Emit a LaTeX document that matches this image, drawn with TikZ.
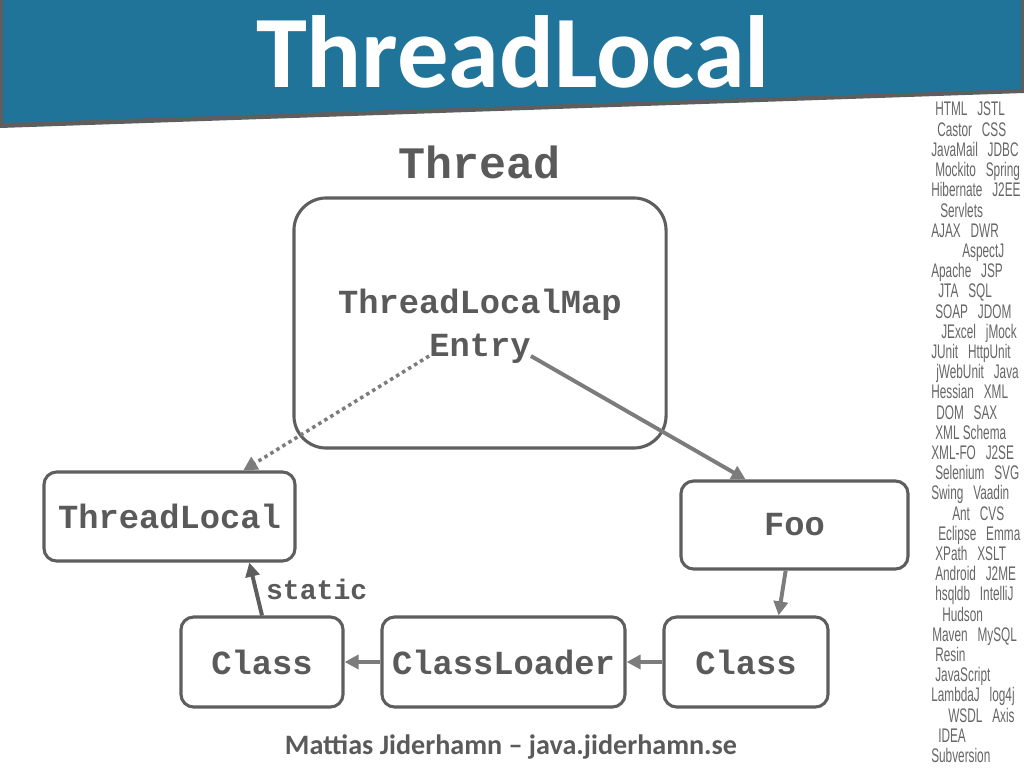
\documentclass[tikz,border=0pt]{standalone}
\usepackage{fontspec}
\setmonofont{Liberation Mono}
\newfontfamily\titlefont{Carlito}
\newfontfamily\techfont[FakeStretch=0.6]{Liberation Sans}
\usetikzlibrary{arrows.meta}
\definecolor{banner}{HTML}{207499}
\definecolor{edge}{HTML}{5E5E5E}
\definecolor{txt}{HTML}{5A5A5A}
\definecolor{conn}{HTML}{7C7C7C}
\definecolor{tech}{HTML}{666666}
\newcommand{\techgap}{\hspace{7pt}}

\begin{document}
\begin{tikzpicture}[x=0.025cm, y=-0.025cm,
    box/.style={draw=edge, line width=2.2pt, rounded corners=9pt, inner sep=0pt,
        text=txt, font=\ttfamily\bfseries\fontsize{24}{28}\selectfont},
    lbl/.style={text=txt, inner sep=0pt, anchor=base,
        font=\ttfamily\bfseries\fontsize{24}{28}\selectfont},
    link/.style={draw=conn, line width=2.8pt, -{Triangle[length=10pt,width=10pt]}}]
    \useasboundingbox (0,0) rectangle (1024,768);

    % Title banner
    \fill[edge] (0,0) -- (1024,0) -- (1024,93) -- (0,128) -- cycle;
    \fill[banner] (3,0) -- (1021,0) -- (1021,89) -- (3,123) -- cycle;
    \node[anchor=base, text=white, inner sep=0pt,
        font=\titlefont\bfseries\fontsize{73}{80}\selectfont] (title) at (513,88) {ThreadLocal};

    % Technologies down the right side
    \foreach \tx/\words [count=\i from 0] in {935/HTML\techgap JSTL, 937/Castor\techgap CSS,
            931/JavaMail\techgap JDBC, 935/Mockito\techgap Spring, 931/Hibernate\techgap J2EE,
            940/Servlets, 931/AJAX\techgap DWR, 962/AspectJ, 931/Apache\techgap JSP,
            938/JTA\techgap SQL, 935/SOAP\techgap JDOM, 941/JExcel\techgap jMock,
            931/JUnit\techgap HttpUnit, 936/jWebUnit\techgap Java, 931/Hessian\techgap XML,
            936/DOM\techgap SAX, 935/XML Schema, 931/XML-FO\techgap J2SE,
            935/Selenium\techgap SVG, 931/Swing\techgap Vaadin, 952/Ant\techgap CVS,
            938/Eclipse\techgap Emma, 935/XPath\techgap XSLT, 935/Android\techgap J2ME,
            935/hsqldb\techgap IntelliJ, 942/Hudson, 932/Maven\techgap MySQL, 935/Resin,
            935/JavaScript, 931/LambdaJ\techgap log4j, 948/WSDL\techgap Axis, 938/IDEA,
            931/Subversion} {
        \node[anchor=base west, inner sep=0pt, text=tech,
            font=\techfont\fontsize{14}{16}\selectfont] (tech\i) at (\tx,116+20.2*\i) {\words};
    }

    % Thread with its map
    \node[lbl, font=\ttfamily\bfseries\fontsize{32}{36}\selectfont] (threadlbl) at (480,179) {Thread};
    \node[box, rounded corners=23pt, minimum width=9.3cm, minimum height=6.25cm] (thread) at (480,323) {};
    \node[lbl] (map) at (480,313) {ThreadLocalMap};
    \node[lbl] (entry) at (480,356) {Entry};

    % Boxes
    \node[box, minimum width=6.275cm, minimum height=2.225cm] (tl) at (169.5,516.5) {ThreadLocal};
    \node[box, minimum width=5.675cm, minimum height=2.2cm] (foo) at (794.5,525) {Foo};
    \node[box, minimum width=4.05cm, minimum height=2.25cm] (cl) at (262,662) {Class};
    \node[box, minimum width=6.075cm, minimum height=2.25cm] (cldr) at (503.5,662) {ClassLoader};
    \node[box, minimum width=4.1cm, minimum height=2.25cm] (cr) at (746,662) {Class};

    % Connectors
    \draw[link, line width=2.5pt, dash pattern=on 2.5pt off 2.5pt] (entry.base west) -- (tl.32);
    \draw[link] (entry.base east) -- (foo.137);
    \draw[link] (foo.-101) -- (cr.55);
    \draw[link] (cr.west) -- (cldr.east);
    \draw[link] (cldr.west) -- (cl.east);
    \draw[link, draw=edge] (cl.north) -- (tl.-30)
        node[pos=0.5, right=6pt, lbl, anchor=west, font=\ttfamily\bfseries\fontsize{20}{24}\selectfont] (static) {static};

    % Footer
    \node[anchor=base, inner sep=0pt, text=txt,
        font=\titlefont\bfseries\fontsize{20}{23}\selectfont] (footer) at (511,754) {Mattias Jiderhamn – java.jiderhamn.se};
\end{tikzpicture}
\end{document}
